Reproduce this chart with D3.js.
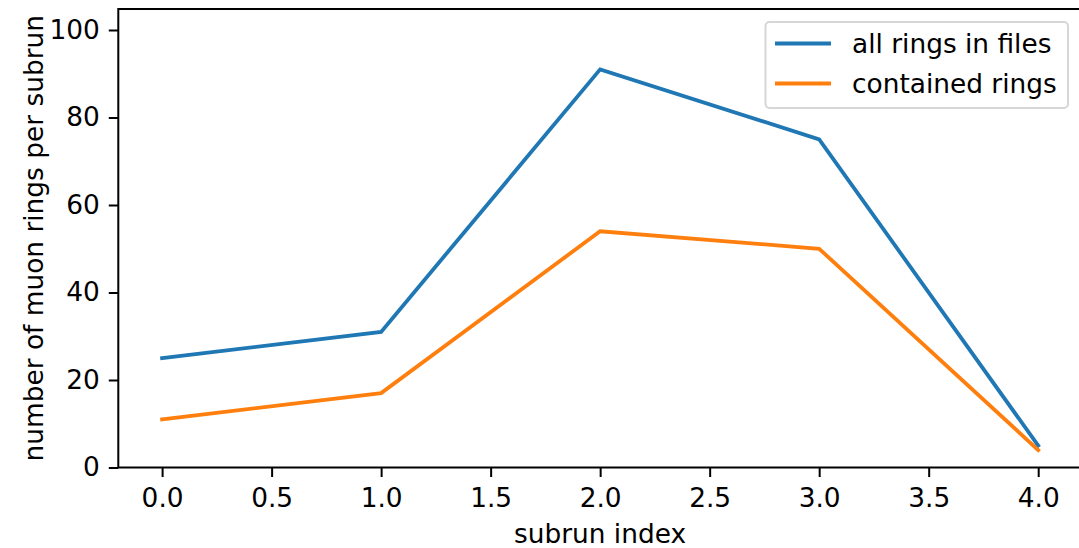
<!DOCTYPE html>
<html>
<head>
<meta charset="utf-8">
<script src="https://cdn.jsdelivr.net/npm/d3@7"></script>
<style>
   body { margin: 0; background: #fff; }
   text { font-family: "DejaVu Sans", sans-serif; fill: #000; }
</style>
</head>
<body>
<div id="chart"></div>
<script>

// DATA
var subrun = [0, 1, 2, 3, 4];
var allRings = [25, 31, 91, 75, 5];
var containedRings = [11, 17, 54, 50, 4];
var xTicks = [0.0, 0.5, 1.0, 1.5, 2.0, 2.5, 3.0, 3.5, 4.0];
var yTicks = [0, 20, 40, 60, 80, 100];
var seriesNames = ['all rings in files', 'contained rings'];
var seriesColors = ['#1f77b4', '#ff7f0e'];

// SETTINGS
var settings = {
   width: 1079,
   height: 548,
   left: 118.3,
   right: 1082,
   top: 9,
   bottom: 467.5,
   font: 26.4
};

// CANVAS
var svg = d3.select('#chart').append('svg')
   .attr('width', settings.width)
   .attr('height', settings.height)

// SCALES
var xScale = d3.scaleLinear()
   .domain([-0.2, 4.2])
   .range([settings.left, settings.right])

var yScale = d3.scaleLinear()
   .domain([0, 104.8])
   .range([settings.bottom, settings.top])

// LINES
var pathify = d3.line()
   .x((d, i) => { return xScale(subrun[i]) })
   .y((d) => { return yScale(d) })

;[allRings, containedRings].forEach((series, k) => {
   svg.append('path')
      .attr('fill', 'none')
      .attr('stroke', seriesColors[k])
      .attr('stroke-width', 3.8)
      .attr('stroke-linecap', 'square')
      .attr('d', pathify(series))
});

// X-AXIS
var xAxis = d3.axisBottom(xScale)
   .tickValues(xTicks)
   .tickFormat(d3.format('.1f'))
   .tickSize(9.5)
   .tickPadding(11)

var gx = svg.append('g')
   .attr('transform', 'translate(0,' + settings.bottom + ')')
   .call(xAxis)
gx.select('.domain').remove()
gx.selectAll('line').attr('stroke', '#000').attr('stroke-width', 2)
gx.selectAll('text').style('font-size', settings.font + 'px').attr('font-family', null)

// Y-AXIS
var yAxis = d3.axisLeft(yScale)
   .tickValues(yTicks)
   .tickSize(9.5)
   .tickPadding(9)

var gy = svg.append('g')
   .attr('transform', 'translate(' + settings.left + ',0)')
   .call(yAxis)
gy.select('.domain').remove()
gy.selectAll('line').attr('stroke', '#000').attr('stroke-width', 2)
gy.selectAll('text').style('font-size', settings.font + 'px').attr('font-family', null)

// SPINES
svg.append('rect')
   .attr('x', settings.left)
   .attr('y', settings.top)
   .attr('width', settings.right - settings.left)
   .attr('height', settings.bottom - settings.top)
   .attr('fill', 'none')
   .attr('stroke', '#000')
   .attr('stroke-width', 2)

// AXIS LABELS
svg.append('text')
   .attr('x', 600)
   .attr('y', 543)
   .attr('text-anchor', 'middle')
   .style('font-size', settings.font + 'px')
   .text('subrun index')

svg.append('text')
   .attr('transform', 'translate(43,' + ((settings.top + settings.bottom) / 2) + ') rotate(-90)')
   .attr('text-anchor', 'middle')
   .style('font-size', settings.font + 'px')
   .text('number of muon rings per subrun')

// LEGEND
var legend = svg.append('g')

legend.append('rect')
   .attr('x', 765.5)
   .attr('y', 22)
   .attr('width', 302.5)
   .attr('height', 86)
   .attr('rx', 4)
   .attr('fill', '#fff')
   .attr('fill-opacity', 0.8)
   .attr('stroke', '#d6d6d6')
   .attr('stroke-width', 2)

seriesNames.forEach((name, k) => {
   var ly = 43.5 + k * 40;
   legend.append('line')
      .attr('x1', 775)
      .attr('x2', 831)
      .attr('y1', ly)
      .attr('y2', ly)
      .attr('stroke', seriesColors[k])
      .attr('stroke-width', 3.8)
   legend.append('text')
      .attr('x', 852)
      .attr('y', ly + 9)
      .style('font-size', settings.font + 'px')
      .text(name)
});

</script>
</body>
</html>
